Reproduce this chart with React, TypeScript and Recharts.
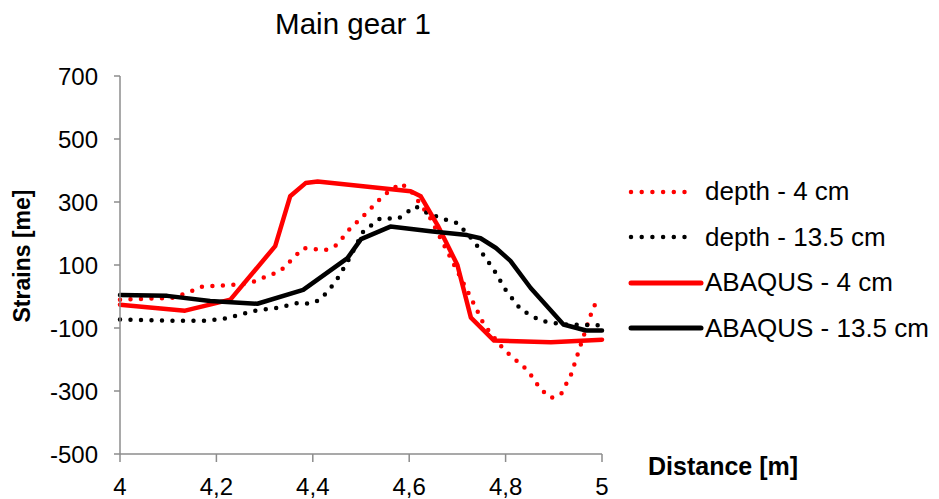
import { Label, Legend, Line, LineChart, XAxis, YAxis } from "recharts";

// Distance [m] / strain pairs
const depth4X = [4, 4.11, 4.15, 4.17, 4.233, 4.27, 4.333, 4.38, 4.426, 4.45, 4.478, 4.5, 4.547, 4.582, 4.603, 4.644, 4.686, 4.728, 4.755, 4.796, 4.846, 4.873, 4.894, 4.915, 4.936, 4.956, 4.983, 5];
const depth4Y = [-10, -4, 18, 31, 37, 43, 81, 154, 147, 164, 217, 248, 321, 359, 337, 248, 122, -4, -89, -168, -235, -295, -322, -310, -247, -153, -29, -14];

const depth135X = [4, 4.104, 4.177, 4.218, 4.28, 4.326, 4.37, 4.395, 4.416, 4.447, 4.472, 4.505, 4.54, 4.578, 4.613, 4.638, 4.68, 4.7, 4.734, 4.776, 4.8, 4.832, 4.873, 4.92, 5];
const depth135Y = [-73, -77, -77, -70, -45, -36, -20, -23, -10, 46, 110, 207, 248, 248, 286, 264, 242, 233, 176, 84, 21, -42, -77, -89, -92];

const abaqus4X = [4, 4.135, 4.229, 4.322, 4.353, 4.385, 4.41, 4.44, 4.603, 4.624, 4.659, 4.7, 4.728, 4.776, 4.894, 5];
const abaqus4Y = [-26, -45, -10, 160, 318, 360, 365, 360, 334, 318, 226, 100, -67, -140, -145, -137];

const abaqus135X = [4, 4.098, 4.187, 4.285, 4.38, 4.472, 4.5, 4.561, 4.644, 4.72, 4.748, 4.78, 4.81, 4.852, 4.92, 4.967, 5];
const abaqus135Y = [5, 2, -14, -23, 21, 122, 182, 222, 207, 195, 185, 154, 113, 27, -89, -108, -108];

const xTicks = [4, 4.2, 4.4, 4.6, 4.8, 5];
const yTicks = [-500, -300, -100, 100, 300, 500, 700];

const toRows = (xs: number[], ys: number[]) => xs.map((x, i) => ({ x, y: ys[i] }));

const series = [
  { name: "depth - 4 cm", color: "#ff0000", dotted: true, data: toRows(depth4X, depth4Y) },
  { name: "depth - 13.5 cm", color: "#000000", dotted: true, data: toRows(depth135X, depth135Y) },
  { name: "ABAQUS - 4 cm", color: "#ff0000", dotted: false, data: toRows(abaqus4X, abaqus4Y) },
  { name: "ABAQUS - 13.5 cm", color: "#000000", dotted: false, data: toRows(abaqus135X, abaqus135Y) },
];

const font = "'Liberation Sans', Arial, sans-serif";

function LegendBox() {
  return (
    <div style={{ fontFamily: font, fontSize: 26, color: "#000" }}>
      {series.map((s) => (
        <div key={s.name} style={{ display: "flex", alignItems: "center", height: 45.5 }}>
          <svg width={77} height={12}>
            <line
              x1={3}
              y1={6}
              x2={s.dotted ? 67 : 73}
              y2={6}
              stroke={s.color}
              strokeWidth={s.dotted ? 4.5 : 5}
              strokeLinecap="round"
              strokeDasharray={s.dotted ? "0 10.7" : undefined}
            />
          </svg>
          <span style={{ whiteSpace: "nowrap" }}>{s.name}</span>
        </div>
      ))}
    </div>
  );
}

export default function App() {
  return (
    <div style={{ position: "absolute", left: 0, top: 0, background: "#fff" }}>
      <LineChart
        width={939}
        height={499}
        margin={{ top: 76, right: 337, bottom: 0, left: 0 }}
        style={{ fontFamily: font }}
      >
        <text x={353} y={34} textAnchor="middle" fontSize={29.5} fill="#000" fontFamily={font}>
          Main gear 1
        </text>
        <XAxis
          type="number"
          dataKey="x"
          domain={[4, 5]}
          ticks={xTicks}
          tickFormatter={(v: number) => String(v).replace(".", ",")}
          allowDuplicatedCategory={false}
          height={45}
          stroke="#8c8c8c"
          strokeWidth={1.5}
          tickSize={8}
          tick={{ fill: "#000", fontSize: 24 }}
          tickMargin={16}
        >
          <Label
            value="Distance [m]"
            content={() => (
              <text x={648} y={475} fontSize={25} fontWeight="bold" fill="#000" fontFamily={font}>
                Distance [m]
              </text>
            )}
          />
        </XAxis>
        <YAxis
          type="number"
          domain={[-500, 700]}
          ticks={yTicks}
          width={120}
          stroke="#8c8c8c"
          strokeWidth={1.5}
          tickSize={6}
          tick={{ fill: "#000", fontSize: 24 }}
          tickMargin={16}
        >
          <Label
            value="Strains [me]"
            content={() => (
              <text
                x={30}
                y={256}
                transform="rotate(-90 30 256)"
                textAnchor="middle"
                fontSize={23}
                fontWeight="bold"
                fill="#000"
                fontFamily={font}
              >
                Strains [me]
              </text>
            )}
          />
        </YAxis>
        <Legend
          layout="vertical"
          align="center"
          verticalAlign="middle"
          content={() => <LegendBox />}
          wrapperStyle={{ left: 628, top: 169, width: 311 }}
        />
        {series.map((s) => (
          <Line
            key={s.name}
            name={s.name}
            data={s.data}
            dataKey="y"
            type="linear"
            stroke={s.color}
            strokeWidth={4.5}
            strokeDasharray={s.dotted ? "0 10.5" : undefined}
            strokeLinecap="round"
            strokeLinejoin="round"
            dot={false}
            activeDot={false}
            isAnimationActive={false}
          />
        ))}
      </LineChart>
    </div>
  );
}
